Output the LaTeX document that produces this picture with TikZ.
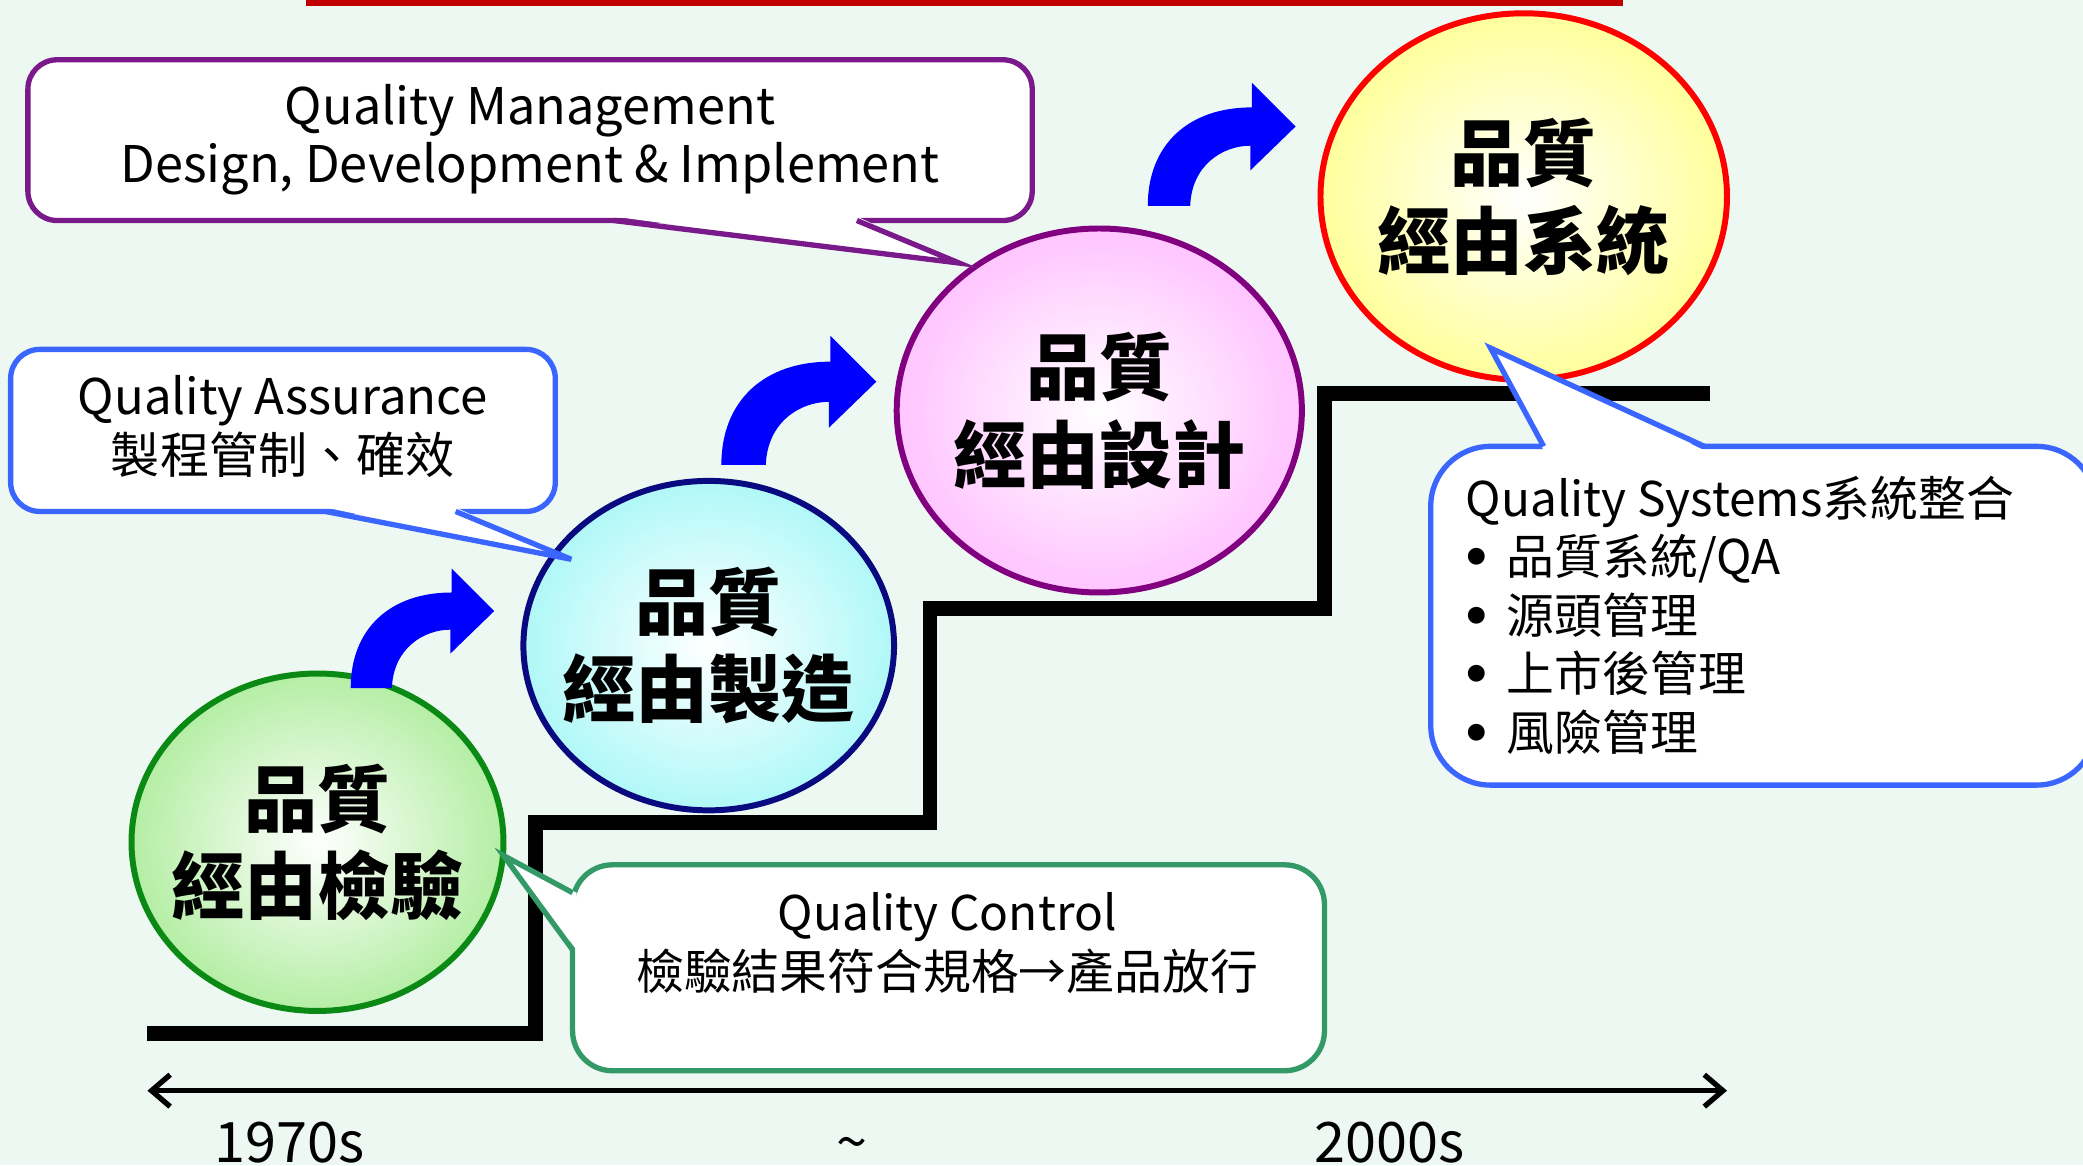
\documentclass[tikz,border=0pt]{standalone}
\usepackage{fontspec}
\setmainfont{Noto Sans CJK TC}
\newfontfamily\bulletfont{DejaVu Sans}
\usetikzlibrary{shapes.geometric,arrows.meta}
\definecolor{bg}{HTML}{EEF8F2}
\definecolor{topred}{HTML}{C00000}
\definecolor{egreen}{HTML}{0A8A14}
\definecolor{enavy}{HTML}{0A0A80}
\definecolor{epurple}{HTML}{800080}
\definecolor{ered}{HTML}{FF0000}
\definecolor{fgreen}{HTML}{B4EEA4}
\definecolor{fcyan}{HTML}{B0F8F8}
\definecolor{fpink}{HTML}{FFC4FF}
\definecolor{fyellow}{HTML}{FFFF9C}
\definecolor{cblue}{HTML}{3A66FF}
\definecolor{cgreen}{HTML}{339966}
\definecolor{cpurple}{HTML}{7A1A8A}
\definecolor{arrowblue}{HTML}{0000FF}
\newcommand{\qsbullet}{\hspace*{-3pt}\makebox[34pt][l]{\bulletfont\bfseries •}}
\begin{document}
\begin{tikzpicture}[x=1pt,y=-1pt,
  ell/.style={ellipse, line width=4.5pt, inner sep=0pt, outer sep=0pt, inner color=white},
  elltext/.style={align=center, inner sep=0pt, font=\fontsize{55}{66}\selectfont\bfseries},
  calltext/.style={align=center, inner sep=0pt, font=\fontsize{36}{44}\selectfont},
  callbox/.style={fill=white, line width=4pt, rounded corners=22pt},
  tail/.style={line width=4pt, line join=miter},
  stair/.style={line width=11pt, line join=miter},
  yearlab/.style={anchor=base, inner sep=0pt, font=\fontsize{42}{50}\selectfont},
  bluearrow/.pic={\fill[arrowblue] (0,0) .. controls (0,-45) and (30,-72) .. (76,-72)
      -- (76,-90) -- (108,-58) -- (75,-26) -- (75,-44)
      .. controls (55,-44) and (32,-30) .. (31,0) -- cycle;}
]
\useasboundingbox (0,0) rectangle (1568,877);
\fill[bg] (0,0) rectangle (1568,877);
\fill[topred] (230,0) rectangle (1222,4.5);

% staircase
\coordinate (s0) at (111,778);
\coordinate (s1) at (403,778);
\coordinate (s2) at (403,619);
\coordinate (s3) at (700,619);
\coordinate (s4) at (700,458);
\coordinate (s5) at (997,458);
\coordinate (s6) at (997,296);
\coordinate (s7) at (1287,296);
\draw[stair] (s0) -- (s1) -- (s2) -- (s3) -- (s4) -- (s5) -- (s6) -- (s7);

% ellipses
\node[ell, draw=egreen, outer color=fgreen, minimum width=280pt, minimum height=254pt] (e1) at (239,634) {};
\node[ell, draw=enavy, outer color=fcyan, minimum width=279pt, minimum height=248pt] (e2) at (533.5,486) {};
\node[ell, draw=epurple, outer color=fpink, minimum width=305pt, minimum height=274pt] (e3) at (827.5,309) {};
\node[ell, draw=ered, outer color=fyellow, minimum width=306pt, minimum height=276pt] (e4) at (1147,148) {};
\node[elltext] (t1) at (e1) {品質\\經由檢驗};
\node[elltext] (t2) at (e2) {品質\\經由製造};
\node[elltext] (t3) at (e3) {品質\\經由設計};
\node[elltext] (t4) at (e4) {品質\\經由系統};

% blue curved arrows
\pic at (264,518) {bluearrow};
\pic[scale=1.08] at (543,350) {bluearrow};
\pic[scale=1.03] at (864,155) {bluearrow};

% QM callout
\draw[callbox, draw=cpurple] (21,45) rectangle (777,166);
\coordinate (qmtip) at (722,198);
\fill[white] (462,163) -- (qmtip) -- (645,163) -- cycle;
\draw[tail, draw=cpurple] (462,166) -- (qmtip) -- (645,166);
\node[calltext, font=\fontsize{38}{44}\selectfont] (qm) at (399,105) {Quality Management\\Design, Development \& Implement};

% QA callout
\draw[callbox, draw=cblue] (8,263) rectangle (418,385);
\coordinate (qatip) at (430,421);
\fill[white] (245,382) -- (qatip) -- (343,382) -- cycle;
\draw[tail, draw=cblue] (245,385) -- (qatip) -- (343,385);
\node[calltext, font=\fontsize{37}{44}\selectfont] (qa) at (213,321) {Quality Assurance\\製程管制、確效};

% QC callout
\draw[callbox, draw=cgreen, rounded corners=30pt] (431,651) rectangle (997,806);
\coordinate (qctip) at (379,644);
\fill[white] (434,672) -- (qctip) -- (434,715) -- cycle;
\draw[tail, draw=cgreen] (431,672) -- (qctip) -- (431,715);
\node[calltext] (qc) at (713,710) {Quality Control\\檢驗結果符合規格→產品放行};

% QS callout
\draw[callbox, draw=cblue, rounded corners=45pt] (1077,336) rectangle (1578,591);
\coordinate (qstip) at (1122,262);
\fill[white] (1162,339) -- (qstip) -- (1283,339) -- cycle;
\draw[tail, draw=cblue] (1162,336) -- (qstip) -- (1283,336);
\node[calltext, align=left, anchor=north west] (qs) at (1103,358) {Quality Systems系統整合\\
\qsbullet 品質系統/QA\\
\qsbullet 源頭管理\\
\qsbullet 上市後管理\\
\qsbullet 風險管理};

% time axis
\coordinate (ta) at (111,821);
\coordinate (tb) at (1300,821);
\draw[line width=4pt, {Straight Barb[length=14pt,width=24pt]}-{Straight Barb[length=14pt,width=24pt]}] (ta) -- (tb);
\node[yearlab] (y1) at (218,875) {1970s};
\node[yearlab] (y2) at (641,875) {\~{}};
\node[yearlab] (y3) at (1046,875) {2000s};
\end{tikzpicture}
\end{document}
